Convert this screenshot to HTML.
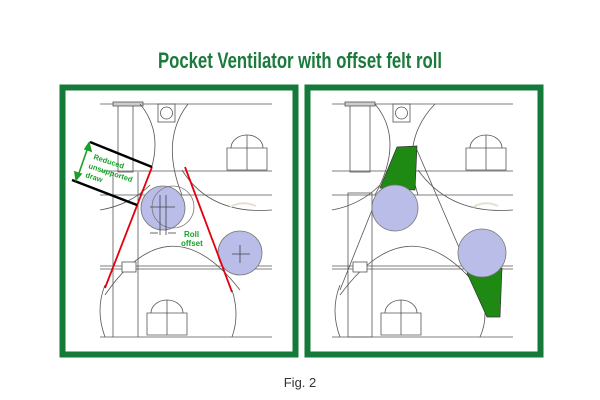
<!DOCTYPE html>
<html><head><meta charset="utf-8"><style>
html,body{margin:0;padding:0;background:#fff;width:600px;height:400px;overflow:hidden}
svg{display:block}
</style></head><body>
<svg width="600" height="400" viewBox="0 0 600 400" xmlns="http://www.w3.org/2000/svg" font-family="Liberation Sans, sans-serif">
<rect width="600" height="400" fill="#fff"/>
<text x="300" y="68" text-anchor="middle" font-size="22" font-weight="bold" fill="#1b7a3c" textLength="284" lengthAdjust="spacingAndGlyphs">Pocket Ventilator with offset felt roll</text>
<text x="300" y="387" text-anchor="middle" font-size="13" fill="#333">Fig. 2</text>

<!-- LEFT PANEL -->
<rect x="62.5" y="87.5" width="233" height="267" fill="#fff" stroke="#137a3a" stroke-width="6"/>
<g stroke="#555" stroke-width="0.8" fill="none">
  <line x1="100" y1="104" x2="272" y2="104"/>
  <line x1="100" y1="171" x2="272" y2="171"/>
  <line x1="100" y1="195" x2="272" y2="195"/>
  <line x1="100" y1="266" x2="272" y2="266"/>
  <line x1="100" y1="269" x2="272" y2="269"/>
  <line x1="100" y1="337" x2="272" y2="337"/>
  <rect x="118" y="104" width="15" height="68"/>
  <rect x="113" y="102" width="30" height="4" fill="#ccc"/>
  <rect x="158" y="104" width="17" height="18"/>
  <circle cx="166.5" cy="113" r="6"/>
  <path d="M140 104 Q 170 140 140 195"/>
  <path d="M188 104 Q 160 140 182 195"/>
  <path d="M182 170 Q 210 215 272 210"/>
  <path d="M100 210 Q 130 205 150 185"/>
  <path d="M105 295 Q 170 200 240 290"/>
  <path d="M105 285 Q 95 310 105 337"/>
  <path d="M232 290 Q 240 315 232 337"/>
  <line x1="113" y1="172" x2="113" y2="337"/>
  <line x1="138" y1="172" x2="138" y2="337"/>
  <rect x="122" y="262" width="14" height="10" fill="#fff"/>
  <path d="M227 170 v-22 h4 a16 13 0 0 1 32 0 h4 v22 z"/>
  <line x1="247" y1="135" x2="247" y2="170"/>
  <line x1="231" y1="148" x2="263" y2="148"/>
  <path d="M147 335 v-22 h4 a16 13 0 0 1 32 0 h4 v22 z"/>
  <line x1="167" y1="300" x2="167" y2="335"/>
  <line x1="151" y1="313" x2="183" y2="313"/>
  <path d="M230 207 Q 242 200 256 206" stroke="#e5e0d0" stroke-width="2"/>
</g>
<circle cx="163" cy="208" r="22" fill="#b9bde8" stroke="#777" stroke-width="0.8"/>
<circle cx="173" cy="207" r="21" fill="none" stroke="#777" stroke-width="0.8"/>
<circle cx="240" cy="253" r="22" fill="#b9bde8" stroke="#777" stroke-width="0.8"/>
<g stroke="#444" stroke-width="0.8"><line x1="160" y1="195" x2="160" y2="235"/><line x1="166" y1="195" x2="166" y2="235"/><line x1="150" y1="207" x2="175" y2="207"/><line x1="240" y1="245" x2="240" y2="263"/><line x1="232" y1="254" x2="250" y2="254"/>
<line x1="150" y1="233" x2="158" y2="233"/><line x1="168" y1="233" x2="176" y2="233"/></g>
<g stroke="#e3000f" stroke-width="1.8"><line x1="152" y1="167" x2="105" y2="288"/><line x1="185" y1="167" x2="232" y2="292"/></g>
<g stroke="#000" stroke-width="2.5"><line x1="90" y1="142" x2="152" y2="167"/><line x1="72" y1="180" x2="137" y2="205"/></g>
<g stroke="#1aa02a" stroke-width="1.6" fill="#1aa02a"><line x1="87" y1="150" x2="79" y2="173"/><path d="M89 143 l2 8 l-6 -2 z"/><path d="M76 180 l-1 -8 l6 2 z"/></g>
<g fill="#1aa02a" font-size="7.5" font-weight="bold">
<text x="93" y="159" transform="rotate(18 93 159)">Reduced</text>
<text x="88" y="168" transform="rotate(18 88 168)">unsupported</text>
<text x="85" y="177" transform="rotate(18 85 177)">draw</text>
</g>
<g fill="#1aa02a" font-size="8" font-weight="bold"><text x="184" y="237">Roll</text><text x="181" y="246">offset</text></g>

<!-- RIGHT PANEL -->
<rect x="307.5" y="87.5" width="233" height="267" fill="#fff" stroke="#137a3a" stroke-width="6"/>
<g stroke="#555" stroke-width="0.8" fill="none">
  <line x1="332" y1="104" x2="513" y2="104"/>
  <line x1="332" y1="171" x2="513" y2="171"/>
  <line x1="332" y1="195" x2="513" y2="195"/>
  <line x1="332" y1="266" x2="513" y2="266"/>
  <line x1="332" y1="269" x2="513" y2="269"/>
  <line x1="332" y1="337" x2="513" y2="337"/>
  <rect x="350" y="104" width="20" height="68"/>
  <rect x="345" y="102" width="30" height="4" fill="#ccc"/>
  <rect x="393" y="104" width="17" height="18"/>
  <circle cx="401.5" cy="113" r="6"/>
  <path d="M375 104 Q 405 140 375 195"/>
  <path d="M435 104 Q 400 140 418 195"/>
  <path d="M418 170 Q 450 215 513 210"/>
  <path d="M332 210 Q 360 205 380 185"/>
  <path d="M340 295 Q 410 200 480 290"/>
  <path d="M340 285 Q 330 310 340 337"/>
  <path d="M480 290 Q 490 315 480 337"/>
  <rect x="348" y="193" width="24" height="144"/>
  <rect x="353" y="262" width="14" height="10" fill="#fff"/>
  <path d="M466 170 v-22 h4 a16 13 0 0 1 32 0 h4 v22 z"/>
  <line x1="486" y1="135" x2="486" y2="170"/>
  <line x1="470" y1="148" x2="502" y2="148"/>
  <path d="M381 335 v-22 h4 a16 13 0 0 1 32 0 h4 v22 z"/>
  <line x1="401" y1="300" x2="401" y2="335"/>
  <line x1="385" y1="313" x2="417" y2="313"/>
  <path d="M473 207 Q 485 200 498 206" stroke="#e5e0d0" stroke-width="2"/>
  <line x1="380" y1="190" x2="340" y2="290"/>
  <line x1="417" y1="150" x2="470" y2="273"/>
</g>
<polygon points="397,147 417,146 415,190 380,188" fill="#1e8a14" stroke="#333" stroke-width="0.7"/>
<polygon points="467,273 502,268 500,317 487,317" fill="#1e8a14" stroke="#333" stroke-width="0.7"/>
<circle cx="395" cy="208" r="23" fill="#b9bde8" stroke="#777" stroke-width="0.8"/>
<circle cx="482" cy="253" r="24" fill="#b9bde8" stroke="#777" stroke-width="0.8"/>
</svg>
</body></html>
